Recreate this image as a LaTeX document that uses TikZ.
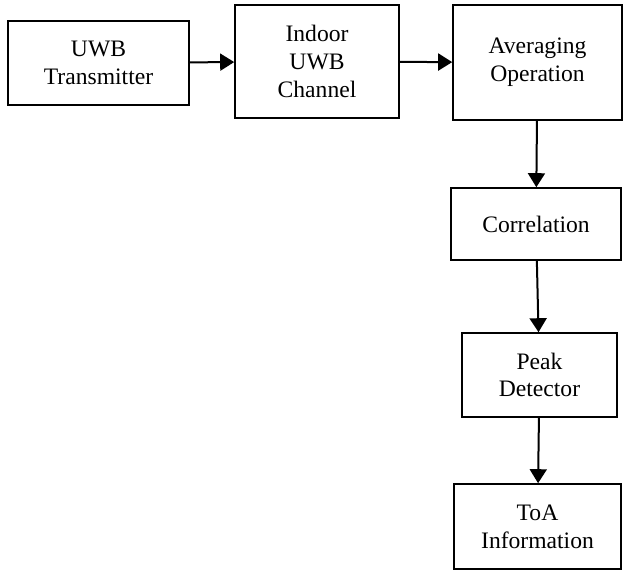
\documentclass[tikz,border=0pt]{standalone}
\usepackage{fontspec}
\setmainfont{Liberation Serif}
\usetikzlibrary{arrows.meta,positioning}
\tikzset{
  blk/.style={draw, line width=1.6pt, inner sep=0pt, align=center,
              font=\fontsize{23.6}{27.7}\selectfont},
  flow/.style={-{Triangle[length=14pt, width=17pt]}, line width=2pt},
}

\begin{document}
\begin{tikzpicture}[x=1pt, y=1pt]
\useasboundingbox (0,0) rectangle (623,-573);

% --- top row ---
\node[blk, minimum width=181, minimum height=84] (tx) at (98.5,-63) {UWB\\Transmitter};
\node[blk, minimum width=164, minimum height=113] (chan) at (317,-61.5) {Indoor\\UWB\\Channel};
\node[blk, minimum width=169, minimum height=115] (avg) at (537.5,-62.5) {Averaging\\Operation};

% --- right column ---
\node[blk, minimum width=170, minimum height=72] (corr) at (536,-224) {Correlation};
\node[blk, minimum width=155, minimum height=84] (peak) at (539.5,-375) {Peak\\Detector};
\node[blk, minimum width=167, minimum height=85] (toa) at (537.5,-526.5) {ToA\\Information};

% --- arrows ---
\draw[flow] (tx) -- (chan);
\draw[flow] (chan) -- (avg);
\draw[flow] (avg) -- (corr);
\draw[flow] (corr) -- (peak);
\draw[flow] (peak) -- (toa);

\end{tikzpicture}
\end{document}
